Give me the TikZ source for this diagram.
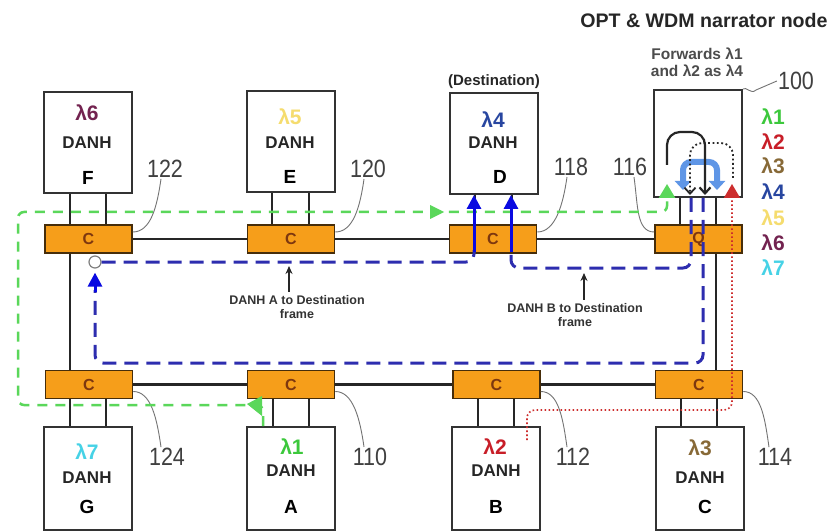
\documentclass[tikz,border=0pt]{standalone}
\usepackage{fontspec}
\setmainfont{Liberation Sans}
\usepackage{graphicx}
\usetikzlibrary{arrows.meta}
\definecolor{orangeC}{RGB}{246,158,26}
\definecolor{cborder}{RGB}{70,45,10}
\definecolor{brownC}{RGB}{125,55,15}
\definecolor{lgreen}{RGB}{60,200,60}
\definecolor{lred}{RGB}{200,30,40}
\definecolor{lbrown}{RGB}{135,105,55}
\definecolor{lblue}{RGB}{40,70,160}
\definecolor{lyellow}{RGB}{245,220,110}
\definecolor{lpurple}{RGB}{115,35,80}
\definecolor{lcyan}{RGB}{70,210,230}
\definecolor{pathblue}{RGB}{45,45,175}
\definecolor{arrblue}{RGB}{10,10,225}
\definecolor{skyblue}{RGB}{95,150,230}
\definecolor{gdash}{RGB}{90,215,90}
\definecolor{rdot}{RGB}{205,45,45}
\newcommand\nlab[1]{\scalebox{0.86}[1]{#1}}
\begin{document}
\begin{tikzpicture}[x=1pt,y=-1pt,
  danh/.style={draw=black!80, line width=2, fill=white, minimum width=88, minimum height=101, inner sep=0},
  danhb/.style={danh, minimum height=103},
  coup/.style={draw=cborder, fill=orangeC, line width=1.5, minimum width=87, minimum height=28, inner sep=0, text=brownC, font=\bfseries\fontsize{16}{16}\selectfont},
  ring/.style={line width=2.5, draw=black!85},
  lam/.style={font=\bfseries\fontsize{21}{21}\selectfont, inner sep=1},
  dtxt/.style={font=\bfseries\fontsize{17}{17}\selectfont, text=black!85, inner sep=1},
  letr/.style={font=\bfseries\fontsize{19}{19}\selectfont, text=black},
  num/.style={font=\fontsize{25}{25}\selectfont, text=black!75, inner sep=1},
  lead/.style={draw=black!55, line width=0.9},
  leg/.style={font=\bfseries\fontsize{21}{21}\selectfont},
  bpath/.style={draw=pathblue, line width=3, dash pattern=on 14pt off 8pt, rounded corners=8},
  barrow/.style={draw=arrblue, line width=3, -{Triangle[width=14pt,length=14pt]}},
  gpath/.style={draw=gdash, line width=2.5, dash pattern=on 10pt off 8pt, rounded corners=6},
  rpath/.style={draw=rdot, line width=1.6, dash pattern=on 1.6pt off 2.4pt, rounded corners=8},
  small/.style={font=\bfseries\fontsize{12.5}{14}\selectfont, text=black!80, align=center},
  tarrow/.style={line width=1.3, draw=black!85, -{Stealth[length=8pt,width=7pt]}},
]
\fill[white] (0,0) rectangle (836,532);
\useasboundingbox (0,0) rectangle (836,532);

% DANH boxes
\node[danh] (F) at (87.5,143) {};
\node[danh] (E) at (290.5,142) {};
\node[danh] (D) at (493.5,143.5) {};
\node[danh, minimum height=107] (N) at (698,143.5) {};
\node[danhb] (G) at (87.5,478.5) {};
\node[danhb] (A) at (291,478.5) {};
\node[danhb] (B) at (496,478.5) {};
\node[danhb] (Cn) at (699.5,478.5) {};

% couplers
\node[coup] (cF) at (88.5,239) {C};
\node[coup] (cE) at (291,239) {C};
\node[coup] (cD) at (493,239) {C};
\node[coup] (cQ) at (698.5,239) {Q};
\node[coup] (cG) at (89,384.5) {C};
\node[coup] (cA) at (291,384.5) {C};
\node[coup] (cB) at (496.5,384.5) {C};
\node[coup] (cC) at (699,384.5) {C};

% ring
\draw[ring] (cF.east) -- (cE.west);
\draw[ring] (cE.east) -- (cD.west);
\draw[ring] (cD.east) -- (cQ.west);
\draw[ring] (cG.east) -- (cA.west);
\draw[ring] (cA.east) -- (cB.west);
\draw[ring] (cB.east) -- (cC.west);
\draw[ring] (cF.south -| 70,0) -- (cG.north -| 70,0);
\draw[ring] (cQ.south -| 716,0) -- (cC.north -| 716,0);

% drops
\foreach \b/\c/\xa/\xb in {F/cF/70/106, E/cE/272/309, D/cD/475/512, N/cQ/680/716}{
  \draw[ring] (\b.south -| \xa,0) -- (\c.north -| \xa,0);
  \draw[ring] (\b.south -| \xb,0) -- (\c.north -| \xb,0);
}
\foreach \b/\c/\xa/\xb in {G/cG/70/106, A/cA/273/309, B/cB/478/514, Cn/cC/681/717}{
  \draw[ring] (\b.north -| \xa,0) -- (\c.south -| \xa,0);
  \draw[ring] (\b.north -| \xb,0) -- (\c.south -| \xb,0);
}

% box texts
\node[lam, text=lpurple] (Fl) at (87,113) {λ6};
\node[dtxt] (Fd) at (87,143) {DANH};
\node[letr] (Fn) at (88,178) {F};
\node[lam, text=lyellow] (El) at (290,117) {λ5};
\node[dtxt] (Ed) at (290,143) {DANH};
\node[letr] (En) at (290,177) {E};
\node[lam, text=lblue] (Dl) at (493,120) {λ4};
\node[dtxt] (Dd) at (493,143) {DANH};
\node[letr] (Dn) at (500,177) {D};
\node[lam, text=lcyan] (Gl) at (87,452) {λ7};
\node[dtxt] (Gd) at (87,478) {DANH};
\node[letr] (Gn) at (87,507) {G};
\node[lam, text=lgreen] (Al) at (292,447) {λ1};
\node[dtxt] (Ad) at (291,471) {DANH};
\node[letr] (An) at (291,507) {A};
\node[lam, text=lred] (Bl) at (495,447) {λ2};
\node[dtxt] (Bd) at (496,471) {DANH};
\node[letr] (Bn) at (496,507) {B};
\node[lam, text=lbrown] (Cl) at (700,448) {λ3};
\node[dtxt] (Cd) at (700,478) {DANH};
\node[letr] (Cnn) at (705,507) {C};

% legend
\node[leg, text=lgreen] (L1) at (773,117) {λ1};
\node[leg, text=lred] (L2) at (773,142) {λ2};
\node[leg, text=lbrown] (L3) at (773,166) {λ3};
\node[leg, text=lblue] (L4) at (773,192) {λ4};
\node[leg, text=lyellow] (L5) at (773,218) {λ5};
\node[leg, text=lpurple] (L6) at (773,243) {λ6};
\node[leg, text=lcyan] (L7) at (773,268) {λ7};

% titles
\node[font=\bfseries\fontsize{19.6}{19.6}\selectfont, text=black!85] (title) at (704,20) {OPT \& WDM narrator node};
\node[font=\bfseries\fontsize{15.5}{17}\selectfont, text=black!70, align=center] (fw) at (697,62) {Forwards λ1\\and λ2 as λ4};
\node[font=\bfseries\fontsize{15}{15}\selectfont, text=black!85] (dest) at (494,82) {(Destination)};

% numbers
\node[num] (n122) at (165,169) {\nlab{122}};
\node[num] (n120) at (368,169) {\nlab{120}};
\node[num] (n118) at (571,167) {\nlab{118}};
\node[num] (n116) at (630,167) {\nlab{116}};
\node[num] (n100) at (796,81) {\nlab{100}};
\node[num] (n124) at (167,457) {\nlab{124}};
\node[num] (n110) at (370,457) {\nlab{110}};
\node[num] (n112) at (573,457) {\nlab{112}};
\node[num] (n114) at (775,457) {\nlab{114}};

% leaders
\draw[lead] ([yshift=7pt]cF.east) .. controls +(18,0) and +(-4,28) .. ([xshift=-4pt]n122.south);
\draw[lead] ([yshift=7pt]cE.east) .. controls +(18,0) and +(-4,28) .. ([xshift=-4pt]n120.south);
\draw[lead] ([yshift=7pt]cD.east) .. controls +(18,0) and +(-4,28) .. ([xshift=-4pt]n118.south);
\draw[lead] ([yshift=7pt]cQ.west) .. controls +(-18,0) and +(4,28) .. ([xshift=4pt]n116.south);
\draw[lead] ([yshift=-7pt]cG.east) .. controls +(18,0) and +(-4,-28) .. ([xshift=-6pt]n124.north);
\draw[lead] ([yshift=-7pt]cA.east) .. controls +(18,0) and +(-4,-28) .. ([xshift=-6pt]n110.north);
\draw[lead] ([yshift=-7pt]cB.east) .. controls +(18,0) and +(-4,-28) .. ([xshift=-6pt]n112.north);
\draw[lead] ([yshift=-7pt]cC.east) .. controls +(18,0) and +(-4,-28) .. ([xshift=-6pt]n114.north);
\draw[lead] (N.north east) .. controls (746,86) and (751,95) .. (756,90) -- (n100.west);

% inner drawing of narrator node
\draw[skyblue, line width=6, rounded corners=8, {Triangle[width=16pt,length=9pt]}-{Triangle[width=16pt,length=9pt]}] (683,190) -- (683,162) -- (717,162) -- (717,190);
\draw[black!85, line width=2.2, rounded corners=13, -{Straight Barb[length=6pt,width=11pt]}] (667,165) -- (667,132) -- (705,132) -- (705,195);
\draw[black!85, line width=1.8, dash pattern=on 1.8pt off 2.6pt, rounded corners=12, -{Straight Barb[length=6pt,width=11pt]}] (733,178) -- (733,143) -- (690,143) -- (690,195);

% green path (lambda1)
\draw[gpath, -{Triangle[width=16pt,length=14pt]}] (A.north -| 263,0) -- (263,405) -- (18,405) -- (18,212) -- (667,212) -- ([yshift=14pt]N.south -| 667,0);
\fill[gdash] (430,205) -- (444,212) -- (430,219) -- cycle;
\fill[gdash] (247,404) -- (262,396) -- (262,416) -- cycle;

% red path (lambda2)
\draw[rpath, -{Triangle[width=16pt,length=14pt]}] (527,440) -- (527,410) -- (732,410) -- ([yshift=14pt]N.south -| 732,0);

% blue paths
\node[circle, draw=black!50, fill=white, line width=1.2, minimum size=12, inner sep=0] (circ) at (95,262) {};
\draw[bpath] (circ.east) -- (474,262) -- (474,250);
\draw[barrow] (474,252) -- (D.south -| 474,0);
\draw[bpath] (N.south -| 691,0) -- (691,268) -- (511,268) -- (511,250);
\draw[barrow] (511,252) -- (D.south -| 511,0);
\draw[bpath] (N.south -| 703,0) -- (703,363) -- (95,363) -- (95,290);
\draw[barrow, shorten >=4pt] (95,292) -- (circ.south);

% frame labels
\node[small] (la) at (297,307) {DANH A to Destination\\frame};
\coordinate (ta) at (289,266);
\draw[tarrow] (la.north -| ta) -- (ta);
\node[small] (lb) at (575,315) {DANH B to Destination\\frame};
\coordinate (tb) at (584,273);
\draw[tarrow] (lb.north -| tb) -- (tb);
\end{tikzpicture}
\end{document}
